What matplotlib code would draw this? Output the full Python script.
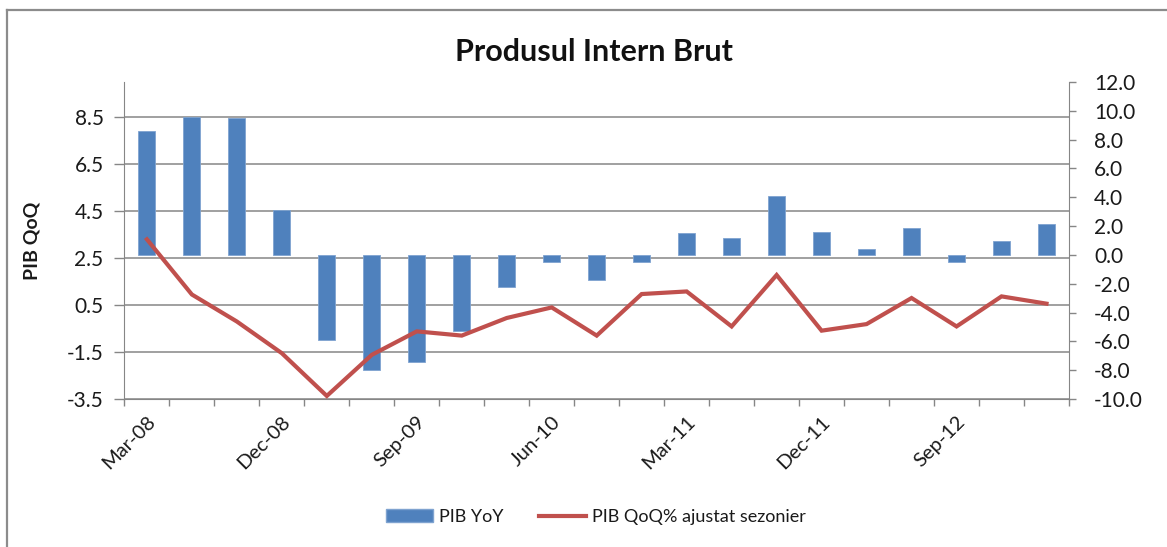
import matplotlib
matplotlib.use("Agg")
import matplotlib.pyplot as plt
import numpy as np
from matplotlib.lines import Line2D
from matplotlib.patches import Patch
from matplotlib.ticker import FormatStrFormatter, FixedLocator

plt.rcParams['font.family'] = ['Lato', 'DejaVu Sans']

quarters = ["Mar-08", "Jun-08", "Sep-08", "Dec-08", "Mar-09", "Jun-09", "Sep-09",
            "Dec-09", "Mar-10", "Jun-10", "Sep-10", "Dec-10", "Mar-11", "Jun-11",
            "Sep-11", "Dec-11", "Mar-12", "Jun-12", "Sep-12", "Dec-12", "Mar-13"]
pib_yoy = [8.6, 9.6, 9.5, 3.1, -5.9, -8.0, -7.4, -5.3, -2.25, -0.5, -1.75, -0.5,
           1.5, 1.15, 4.1, 1.6, 0.4, 1.9, -0.5, 1.0, 2.15]
pib_qoq = [3.3, 0.95, -0.2, -1.55, -3.37, -1.62, -0.62, -0.8, -0.05, 0.4, -0.8, 0.97,
           1.08, -0.41, 1.78, -0.59, -0.31, 0.8, -0.41, 0.87, 0.56]
label_every = 3

W, H = 1167, 547
fig = plt.figure(figsize=(W / 100, H / 100), dpi=100)
fig.patch.set_facecolor("white")

x0, x1 = 124.4, 1069
y_top, y_bot = 82, 399
rect = [x0 / W, 1 - y_bot / H, (x1 - x0) / W, (y_bot - y_top) / H]

axis_col = "#868686"
grid_col = "#868686"
bar_col = "#4F81BD"
line_col = "#C0504D"
text_col = "#1a1a1a"

ax = fig.add_axes(rect)          # left axis + grid
axb = ax.twinx()                 # right axis for bars
axl = ax.twinx()                 # line, same scale as left axis

n = len(quarters)
x = np.arange(n)

ax.set_ylim(-3.5, 10.0)
axl.set_ylim(-3.5, 10.0)
axb.set_ylim(-10, 12)

left_ticks = np.arange(-3.5, 9.0, 2.0)
ax.set_yticks(left_ticks)
ax.yaxis.set_major_formatter(FormatStrFormatter('%.1f'))
ax.grid(axis='y', color=grid_col, linewidth=1.1)
ax.set_axisbelow(True)

axb.set_yticks(np.arange(-10, 13, 2))
axb.yaxis.set_major_formatter(FormatStrFormatter('%.1f'))

for a in (ax, axb, axl):
    a.set_xlim(-0.5, n - 0.5)
    for s in a.spines.values():
        s.set_visible(False)
    a.patch.set_visible(False)

ax.spines['left'].set_visible(True)
ax.spines['left'].set_color(axis_col)
ax.spines['bottom'].set_visible(True)
ax.spines['bottom'].set_color(axis_col)
axb.spines['right'].set_visible(True)
axb.spines['right'].set_color(axis_col)

ax.tick_params(axis='y', direction='out', length=7, width=1, color=axis_col,
               labelsize=15, pad=8, labelcolor=text_col)
axb.tick_params(axis='y', direction='out', length=5, width=1, color=axis_col,
                labelsize=15, pad=13, labelcolor=text_col)
axl.set_yticks([])
axl.tick_params(axis='both', length=0, labelleft=False, labelright=False,
                labelbottom=False)
axb.tick_params(axis='x', length=0, labelbottom=False)

# x ticks: marks at category boundaries, labels every 3rd category
ax.xaxis.set_major_locator(FixedLocator(x[::label_every]))
ax.set_xticklabels(quarters[::label_every])
ax.xaxis.set_minor_locator(FixedLocator(np.arange(-0.5, n, 1.0)))
ax.tick_params(axis='x', which='major', length=0, labelsize=14.5, pad=10,
               labelcolor=text_col)
ax.tick_params(axis='x', which='minor', direction='out', length=5, width=1,
               color=axis_col)
for lbl in ax.get_xticklabels():
    lbl.set_rotation(45)
    lbl.set_ha('right')
    lbl.set_va('top')
    lbl.set_rotation_mode('anchor')

axb.bar(x, pib_yoy, width=0.38, color=bar_col, edgecolor="#7FA3D0", linewidth=0.6,
        zorder=2)
axl.plot(x, pib_qoq, color=line_col, linewidth=3, solid_joinstyle='miter', zorder=3)

ax.set_ylabel("PIB QoQ", fontsize=14, fontweight='bold', color=text_col)
ax.yaxis.set_label_coords(-(124.4 - 40) / (x1 - x0), 0.5)

fig.text(594 / W, 1 - 52 / H, "Produsul Intern Brut", ha='center', va='center',
         fontsize=22, fontweight='bold', color="#111111")

handles = [Patch(facecolor=bar_col, edgecolor="#7FA3D0"),
           Line2D([0], [0], color=line_col, linewidth=3)]
fig.legend(handles, ["PIB YoY", "PIB QoQ% ajustat sezonier"], loc='center',
           bbox_to_anchor=(596 / W, 1 - 517 / H), ncol=2, frameon=False,
           fontsize=13, handlelength=2.6, handletextpad=0.3, columnspacing=2.0,
           labelcolor=text_col)

# outer chart border (top and left visible)
fig.add_artist(Line2D([7 / W, 1.0], [1 - 10 / H, 1 - 10 / H], color="#8C8C8C",
                      linewidth=1.6, transform=fig.transFigure))
fig.add_artist(Line2D([7 / W, 7 / W], [0.0, 1 - 10 / H], color="#8C8C8C",
                      linewidth=1.6, transform=fig.transFigure))

fig.savefig("out.png", dpi=100, facecolor="white")
